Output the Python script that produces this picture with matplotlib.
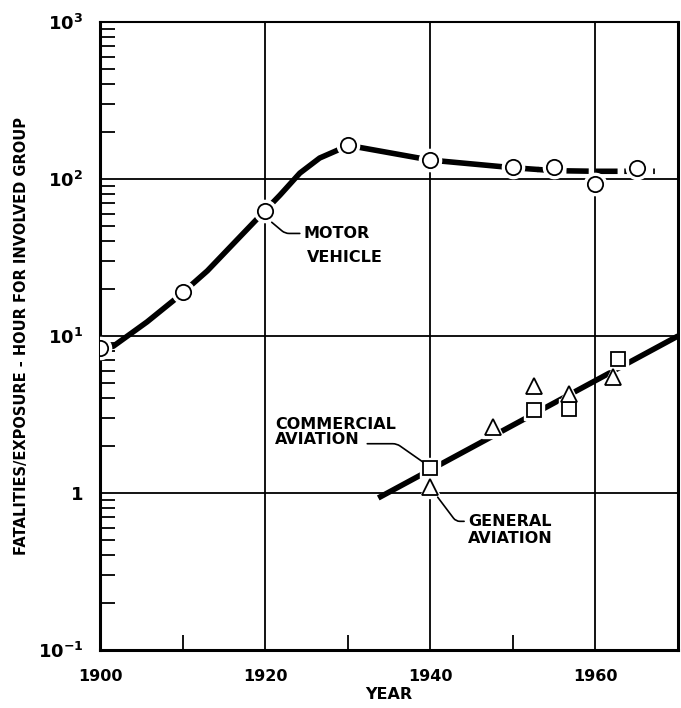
import numpy as np
import matplotlib.pyplot as plt
from matplotlib.ticker import FixedLocator, NullFormatter

# motor vehicle points (circles)
mv_years = [1900, 1910, 1920, 1930, 1940, 1950, 1955, 1960, 1965]
mv_vals = [8.4, 19, 63, 164, 132, 120, 119, 93, 118]
# motor vehicle trend curve
mv_line_years = [1900, 1901.6, 1905.7, 1909.3, 1913, 1916.6, 1920, 1921.8, 1924.2,
                 1926.6, 1928.7, 1930, 1940, 1950, 1953]
mv_line_vals = [8.4, 8.6, 12.3, 17.5, 26, 41, 63, 79, 109, 136, 152, 164, 132, 118, 115]
mv_dash_years = [1953, 1955, 1960, 1967.2]
mv_dash_vals = [115, 113, 112, 112]

# aviation
com_years = [1940, 1952.6, 1956.8, 1962.7]
com_vals = [1.44, 3.4, 3.45, 7.1]
gen_years = [1940, 1947.6, 1952.6, 1956.8, 1962.1]
gen_vals = [1.1, 2.62, 4.77, 4.25, 5.45]
av_line_years = [1933.7, 1970]
av_line_vals = [0.93, 10]

xticks = [1900, 1920, 1940, 1960]
yticks = [0.1, 1, 10, 100, 1000]
ytick_labels = [r'$\mathbf{10^{-1}}$', r'$\mathbf{1}$', r'$\mathbf{10^{1}}$',
                r'$\mathbf{10^{2}}$', r'$\mathbf{10^{3}}$']

plt.rcParams['font.family'] = 'DejaVu Sans'
plt.rcParams['font.weight'] = 'bold'

fig = plt.figure(figsize=(6.81, 7.08), dpi=100)
ax = fig.add_axes([100/681, 58/708, 578/681, 628/708])
ax.set_yscale('log')
ax.set_xlim(1900, 1970)
ax.set_ylim(0.1, 1000)

# grid
for x in [1920, 1940, 1960]:
    ax.axvline(x, color='black', lw=1.3, zorder=1)
for y in [1, 10, 100]:
    ax.axhline(y, color='black', lw=1.3, zorder=1)

ax.plot(mv_line_years, mv_line_vals, color='black', lw=4, solid_capstyle='round', zorder=2)
ax.plot(mv_dash_years, mv_dash_vals, color='black', lw=4, dashes=(4, 1.2),
        dash_capstyle='butt', zorder=2)
ax.plot(av_line_years, av_line_vals, color='black', lw=4, solid_capstyle='butt', zorder=2)

def halo_markers(xs, ys, m, ms):
    ax.plot(xs, ys, m, ms=ms + 5, mfc='white', mec='white', zorder=3)
    ax.plot(xs, ys, m, ms=ms, mfc='white', mec='black', mew=1.3, zorder=4)

halo_markers(mv_years, mv_vals, 'o', 11)
halo_markers(com_years, com_vals, 's', 10)
halo_markers(gen_years, gen_vals, '^', 11)

fs = 11.5
lead = dict(arrowstyle='-', color='black', lw=1.2, shrinkA=1, shrinkB=0)

ax.annotate('MOTOR', xy=(1920.8, 53), xytext=(1924.7, 45), ha='left', va='center',
            fontsize=fs, fontweight='bold',
            arrowprops=dict(lead, connectionstyle='angle,angleA=0,angleB=-40,rad=4'))
ax.text(1925.1, 31.5, 'VEHICLE', ha='left', va='center', fontsize=fs, fontweight='bold')

ax.text(1921.2, 2.45, 'COMMERCIAL\nAVIATION', ha='left', va='center', fontsize=fs,
        fontweight='bold', linespacing=1.05)
ax.annotate('', xy=(1939.3, 1.55), xytext=(1932.2, 2.06),
            arrowprops=dict(lead, connectionstyle='angle,angleA=0,angleB=-35,rad=4'))

ax.annotate('GENERAL', xy=(1940.9, 0.94), xytext=(1944.6, 0.66), ha='left', va='center',
            fontsize=fs, fontweight='bold',
            arrowprops=dict(lead, connectionstyle='angle,angleA=0,angleB=-53,rad=4'))
ax.text(1944.6, 0.51, 'AVIATION', ha='left', va='center', fontsize=fs, fontweight='bold')

# ticks
ax.xaxis.set_major_locator(FixedLocator(xticks))
ax.set_xticklabels([str(x) for x in xticks])
ax.xaxis.set_minor_locator(FixedLocator([1910, 1930, 1950]))
ax.tick_params(axis='x', which='major', length=0, pad=14, labelsize=fs)
ax.tick_params(axis='x', which='minor', direction='in', length=11, width=1.3)

ax.yaxis.set_major_locator(FixedLocator(yticks))
ax.set_yticklabels(ytick_labels)
minors = [m * 10.0**e for e in range(-1, 3) for m in range(2, 10)]
ax.yaxis.set_minor_locator(FixedLocator(minors))
ax.yaxis.set_minor_formatter(NullFormatter())
ax.tick_params(axis='y', which='major', length=0, pad=12, labelsize=13)
ax.tick_params(axis='y', which='minor', direction='in', length=11, width=1.3)

for s in ['left', 'bottom', 'right']:
    ax.spines[s].set_linewidth(2.2)
ax.spines['top'].set_linewidth(1.5)

ax.set_xlabel('YEAR', fontsize=fs, fontweight='bold', labelpad=2)
ax.set_ylabel('FATALITIES/EXPOSURE - HOUR FOR INVOLVED GROUP', fontsize=10.5,
              fontweight='bold', labelpad=6)

fig.savefig('out.png', dpi=100)
